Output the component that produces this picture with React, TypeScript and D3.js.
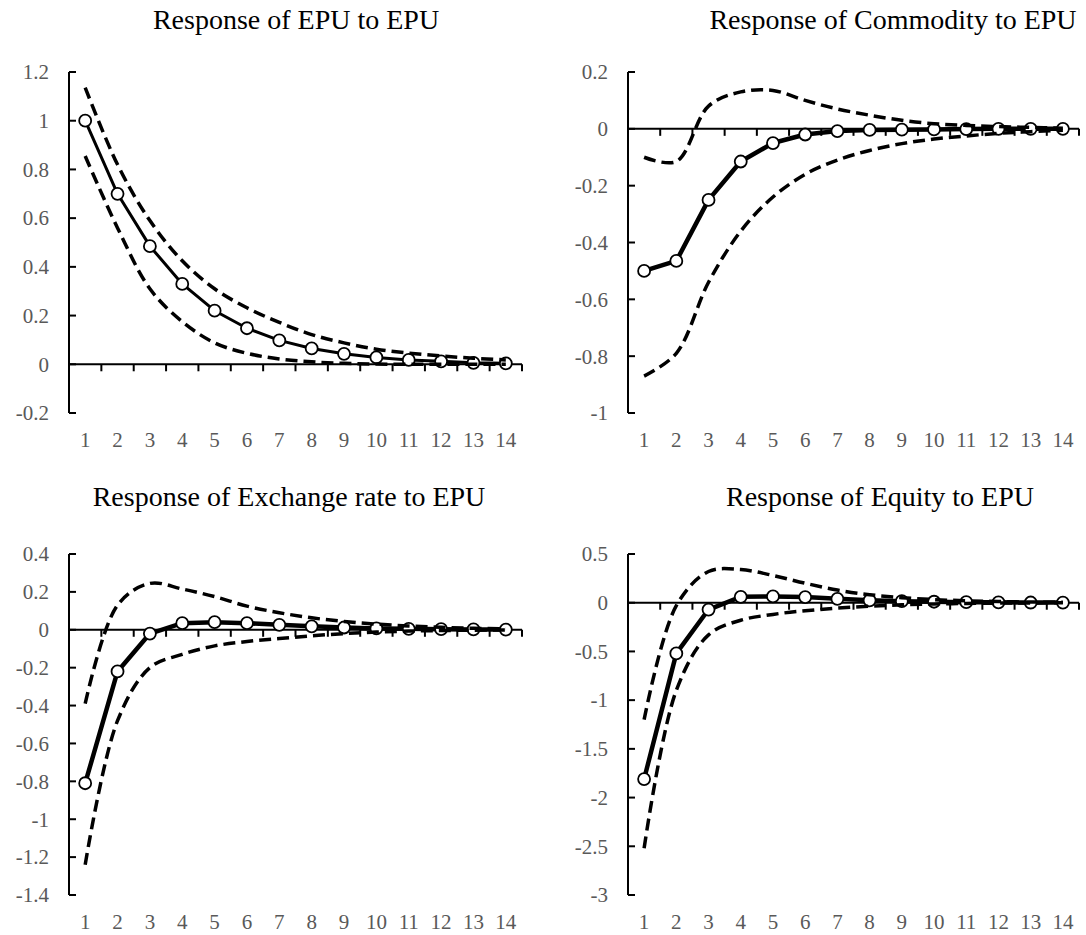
import * as d3 from 'd3';
import React from 'react';

// horizon 1..14
const periods = d3.range(1, 15);

// Response of EPU to EPU
const epuMain = [1.0, 0.70, 0.485, 0.33, 0.22, 0.148, 0.098, 0.065, 0.043, 0.028, 0.018, 0.012, 0.006, 0.004];
const epuUpper = [1.136, 0.82, 0.59, 0.425, 0.31, 0.232, 0.172, 0.122, 0.088, 0.062, 0.046, 0.034, 0.025, 0.018];
const epuLower = [0.855, 0.56, 0.31, 0.175, 0.088, 0.045, 0.022, 0.01, 0.004, 0.001, 0.0, 0.0, 0.0, 0.0];

// Response of Commodity to EPU
const comMain = [-0.50, -0.465, -0.25, -0.115, -0.05, -0.02, -0.008, -0.004, -0.003, -0.002, -0.001, 0.0, 0.0, 0.0];
const comUpper = [-0.10, -0.115, 0.08, 0.13, 0.135, 0.10, 0.07, 0.048, 0.03, 0.018, 0.012, 0.008, 0.005, 0.002];
const comLower = [-0.87, -0.79, -0.54, -0.36, -0.24, -0.16, -0.11, -0.076, -0.052, -0.036, -0.025, -0.016, -0.01, -0.005];

// Response of Exchange rate to EPU
const fxMain = [-0.81, -0.22, -0.02, 0.035, 0.04, 0.035, 0.026, 0.018, 0.012, 0.007, 0.005, 0.003, 0.002, 0.001];
const fxUpper = [-0.39, 0.13, 0.245, 0.215, 0.175, 0.125, 0.09, 0.063, 0.044, 0.03, 0.02, 0.013, 0.008, 0.005];
const fxLower = [-1.24, -0.48, -0.2, -0.13, -0.085, -0.062, -0.046, -0.032, -0.02, -0.012, -0.007, -0.004, -0.002, -0.001];

// Response of Equity to EPU
const eqMain = [-1.81, -0.52, -0.07, 0.06, 0.065, 0.058, 0.04, 0.025, 0.016, 0.01, 0.006, 0.004, 0.002, 0.001];
const eqUpper = [-1.2, -0.03, 0.32, 0.34, 0.28, 0.2, 0.13, 0.082, 0.052, 0.032, 0.02, 0.012, 0.007, 0.004];
const eqLower = [-2.52, -0.9, -0.33, -0.18, -0.12, -0.082, -0.056, -0.036, -0.022, -0.013, -0.008, -0.004, -0.002, -0.001];

const epuTicks = [1.2, 1, 0.8, 0.6, 0.4, 0.2, 0, -0.2];
const comTicks = [0.2, 0, -0.2, -0.4, -0.6, -0.8, -1];
const fxTicks = [0.4, 0.2, 0, -0.2, -0.4, -0.6, -0.8, -1, -1.2, -1.4];
const eqTicks = [0.5, 0, -0.5, -1, -1.5, -2, -2.5, -3];

const panels = [
  { title: 'Response of EPU to EPU', main: epuMain, upper: epuUpper, lower: epuLower, ticks: epuTicks, left: 69, right: 522, top: 72, bottom: 413, titleX: 296, titleY: 29, lw: 3 },
  { title: 'Response of Commodity to EPU', main: comMain, upper: comUpper, lower: comLower, ticks: comTicks, left: 628, right: 1079, top: 72, bottom: 413, titleX: 893, titleY: 29, lw: 4.5 },
  { title: 'Response of Exchange rate to EPU', main: fxMain, upper: fxUpper, lower: fxLower, ticks: fxTicks, left: 69, right: 522, top: 554, bottom: 895, titleX: 289, titleY: 506, lw: 4.5 },
  { title: 'Response of Equity to EPU', main: eqMain, upper: eqUpper, lower: eqLower, ticks: eqTicks, left: 628, right: 1079, top: 554, bottom: 895, titleX: 880, titleY: 506, lw: 4.5 },
];

const fmt = (v: number) => String(Math.round(v * 10) / 10);
const font = '"Liberation Serif", "Times New Roman", serif';

function Panel({ p }: { p: (typeof panels)[number] }) {
  const x = d3.scaleBand<number>().domain(periods).range([p.left, p.right]).padding(0);
  const y = d3.scaleLinear()
    .domain([d3.min(p.ticks)!, d3.max(p.ticks)!])
    .range([p.bottom, p.top]);
  const cx = (i: number) => x(periods[i])! + x.bandwidth() / 2;

  const straight = d3.line<number>().x((_, i) => cx(i)).y(d => y(d));
  const smooth = d3.line<number>().x((_, i) => cx(i)).y(d => y(d)).curve(d3.curveCatmullRom.alpha(0.5));
  const y0 = y(0);

  return (
    <g>
      <text x={p.titleX} y={p.titleY} textAnchor="middle" fontSize={28} fill="#000">{p.title}</text>
      {/* y axis */}
      <line x1={p.left} x2={p.left} y1={p.top} y2={p.bottom} stroke="#000" strokeWidth={2} />
      {p.ticks.map(t => (
        <g key={t}>
          <line x1={p.left} x2={p.left + 7} y1={y(t)} y2={y(t)} stroke="#000" strokeWidth={2} />
          <text x={p.left - 20} y={y(t)} dy="0.35em" textAnchor="end" fontSize={21} fill="#595959">{fmt(t)}</text>
        </g>
      ))}
      {/* x axis at zero */}
      <line x1={p.left} x2={p.right} y1={y0} y2={y0} stroke="#000" strokeWidth={2} />
      {periods.map(d => (
        <g key={d}>
          <line x1={x(d)! + x.bandwidth()} x2={x(d)! + x.bandwidth()} y1={y0} y2={y0 + 7} stroke="#000" strokeWidth={2} />
          <text x={x(d)! + x.bandwidth() / 2} y={p.bottom + 27} dy="0.35em" textAnchor="middle" fontSize={21} fill="#595959">{d}</text>
        </g>
      ))}
      {/* point estimate */}
      <path d={straight(p.main)!} fill="none" stroke="#000" strokeWidth={p.lw} strokeLinejoin="round" />
      {p.main.map((v, i) => (
        <circle key={i} cx={cx(i)} cy={y(v)} r={6} fill="#fff" stroke="#000" strokeWidth={1.8} />
      ))}
      {/* confidence bands */}
      {[p.upper, p.lower].map((s, k) => (
        <path key={k} d={smooth(s)!} fill="none" stroke="#000" strokeWidth={3.5} strokeDasharray="12,6" />
      ))}
    </g>
  );
}

export default function App() {
  return (
    <svg width={1086} height={935} style={{ position: 'absolute', left: 0, top: 0, background: '#fff' }} fontFamily={font}>
      <rect width={1086} height={935} fill="#fff" />
      {panels.map(p => <Panel key={p.title} p={p} />)}
    </svg>
  );
}
